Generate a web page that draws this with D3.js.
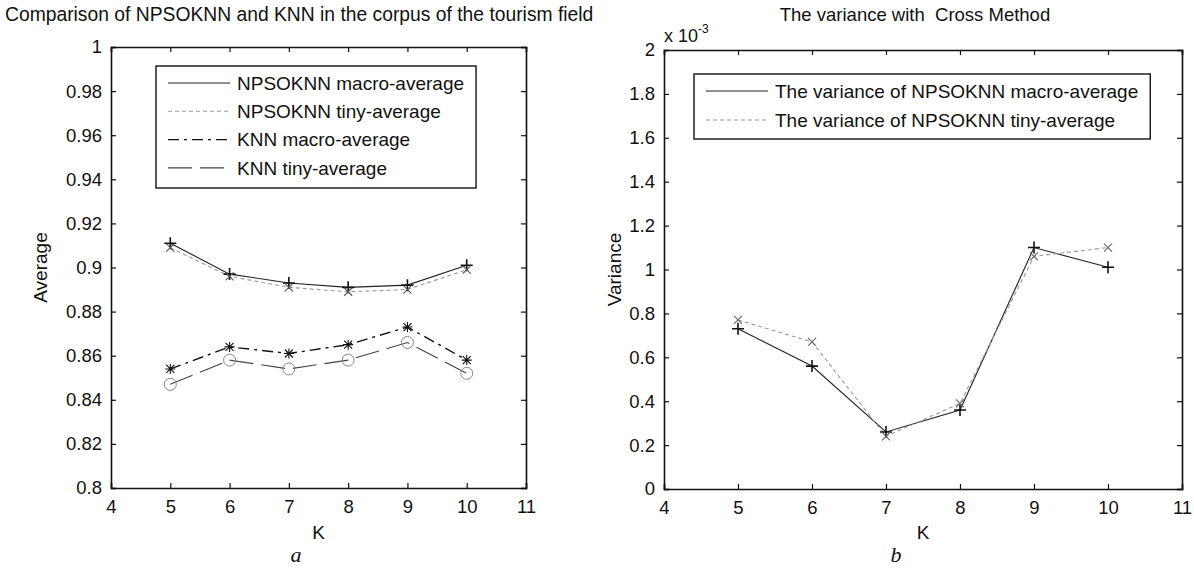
<!DOCTYPE html>
<html>
<head>
<meta charset="utf-8">
<script src="https://cdn.jsdelivr.net/npm/d3@7"></script>
<style>
  body { margin: 0; background: #fff; }
  svg text { font-family: "Liberation Sans", Arial, sans-serif; fill: #111; }
</style>
</head>
<body>
<svg id="chart" width="1194" height="568"></svg>
<script>
/* two MATLAB-style panels: averages (a) and variance (b) */

const kValues   = [5, 6, 7, 8, 9, 10];
const npsoMacro = [0.911, 0.897, 0.893, 0.891, 0.892, 0.901];
const npsoTiny  = [0.909, 0.896, 0.891, 0.889, 0.890, 0.899];
const knnMacro  = [0.854, 0.864, 0.861, 0.865, 0.873, 0.858];
const knnTiny   = [0.847, 0.858, 0.854, 0.858, 0.866, 0.852];

const varMacro  = [0.00073, 0.00056, 0.00026, 0.00036, 0.00110, 0.00101];
const varTiny   = [0.00077, 0.00067, 0.00024, 0.00039, 0.00106, 0.00110];

const xTicks     = [4, 5, 6, 7, 8, 9, 10, 11];
const avgTicks   = [0.8, 0.82, 0.84, 0.86, 0.88, 0.9, 0.92, 0.94, 0.96, 0.98, 1];
const varTicks   = [0, 0.0002, 0.0004, 0.0006, 0.0008, 0.001, 0.0012, 0.0014, 0.0016, 0.0018, 0.002];

const svg = d3.select("#chart");

/* -- marker shapes ------------------------------------------------------ */
const markerPath = {
  plus:  "M-6,0H6M0,-6V6",
  cross: "M-4,-4L4,4M-4,4L4,-4",
  star:  "M-5,0H5M0,-5V5M-4,-4L4,4M-4,4L4,-4"
};

function panel(cfg) {
  const x = d3.scaleLinear().domain([4, 11]).range([cfg.left, cfg.right]);
  const y = d3.scaleLinear().domain(cfg.yDomain).range([cfg.bottom, cfg.top]);
  const g = svg.append("g");

  // frame axes, ticks pointing inward
  const fmtY = cfg.yFormat;
  g.append("g").attr("transform", `translate(0,${cfg.bottom})`)
    .call(d3.axisBottom(x).tickValues(xTicks).tickSize(-5).tickPadding(12).tickFormat(d3.format("d")));
  g.append("g").attr("transform", `translate(0,${cfg.top})`)
    .call(d3.axisTop(x).tickValues(xTicks).tickSize(-5).tickFormat(""));
  g.append("g").attr("transform", `translate(${cfg.left},0)`)
    .call(d3.axisLeft(y).tickValues(cfg.yTicks).tickSize(-5).tickPadding(9).tickFormat(fmtY));
  g.append("g").attr("transform", `translate(${cfg.right},0)`)
    .call(d3.axisRight(y).tickValues(cfg.yTicks).tickSize(-5).tickFormat(""));

  g.selectAll(".domain").attr("stroke", "#111").attr("stroke-width", 1.6);
  g.selectAll(".tick line").attr("stroke", "#111").attr("stroke-width", 1.2);
  g.selectAll(".tick text").attr("font-size", 18.5).attr("fill", "#111")
    .attr("font-family", "Liberation Sans, Arial, sans-serif");

  const line = d3.line().x((d, i) => x(kValues[i])).y(d => y(d));

  cfg.series.forEach(s => {
    g.append("path").datum(s.values)
      .attr("d", line).attr("fill", "none")
      .attr("stroke", s.color).attr("stroke-width", s.width || 1.1)
      .attr("stroke-dasharray", s.dash || null);
  });
  cfg.series.forEach(s => {
    const m = g.selectAll(null).data(s.values).enter();
    if (s.marker === "circle") {
      m.append("circle")
        .attr("cx", (d, i) => x(kValues[i])).attr("cy", d => y(d)).attr("r", 6)
        .attr("fill", "none").attr("stroke", s.markerColor).attr("stroke-width", 1);
    } else {
      m.append("path")
        .attr("transform", (d, i) => `translate(${x(kValues[i])},${y(d)})`)
        .attr("d", markerPath[s.marker]).attr("fill", "none")
        .attr("stroke", s.markerColor).attr("stroke-width", s.marker === "plus" ? 1.6 : 1.1);
    }
  });

  // legend
  const L = cfg.legend;
  const lg = g.append("g");
  const rows = cfg.series.map((s, i) => {
    const yy = L.y0 + i * L.step;
    lg.append("line").attr("x1", L.x + 12).attr("x2", L.x + 74)
      .attr("y1", yy).attr("y2", yy)
      .attr("stroke", s.color).attr("stroke-width", s.width || 1.1)
      .attr("stroke-dasharray", s.dash || null);
    return lg.append("text").attr("x", L.x + 81).attr("y", yy)
      .attr("dy", "0.35em").attr("font-size", 19).text(s.name);
  });
  const maxW = d3.max(rows, t => t.node().getComputedTextLength());
  lg.insert("rect", ":first-child")
    .attr("x", L.x).attr("y", L.top)
    .attr("width", 81 + maxW + 12).attr("height", L.bottom - L.top)
    .attr("fill", "#fff").attr("stroke", "#111").attr("stroke-width", 1.4);

  // labels
  svg.append("text").attr("x", (cfg.left + cfg.right) / 2).attr("y", 539)
    .attr("text-anchor", "middle").attr("font-size", 19).text("K");
  svg.append("text")
    .attr("transform", `translate(${cfg.yLabelX},${(cfg.top + cfg.bottom) / 2}) rotate(-90)`)
    .attr("text-anchor", "middle").attr("font-size", 19).text(cfg.yLabel);
  svg.append("text").attr("x", cfg.captionX).attr("y", 562)
    .attr("text-anchor", "middle").attr("font-size", 22)
    .attr("font-style", "italic").style("font-family", "Liberation Serif, Times New Roman, serif")
    .text(cfg.caption);
}

const gray = "#9a9a9a";

panel({
  left: 111, right: 526, top: 47, bottom: 488,
  yDomain: [0.8, 1], yTicks: avgTicks,
  yFormat: d => d3.format("")(+d.toFixed(2)),
  yLabel: "Average", yLabelX: 47, caption: "a", captionX: 296,
  legend: { x: 156, top: 66, bottom: 188, y0: 83, step: 28.3 },
  series: [
    { name: "NPSOKNN macro-average", values: npsoMacro, color: "#222", marker: "plus", markerColor: "#111" },
    { name: "NPSOKNN tiny-average",  values: npsoTiny,  color: gray, dash: "4,3", marker: "cross", markerColor: "#555" },
    { name: "KNN macro-average",     values: knnMacro,  color: "#111", dash: "11,5,3,5", width: 1.4, marker: "star", markerColor: "#111" },
    { name: "KNN tiny-average",      values: knnTiny,   color: "#444", dash: "24,8", marker: "circle", markerColor: "#888" }
  ]
});

panel({
  left: 664, right: 1182, top: 50, bottom: 489,
  yDomain: [0, 0.002], yTicks: varTicks,
  yFormat: d => d3.format("")(+(d * 1000).toFixed(1)),
  yLabel: "Variance", yLabelX: 621, caption: "b", captionX: 896,
  legend: { x: 694, top: 74, bottom: 139, y0: 91, step: 29 },
  series: [
    { name: "The variance of NPSOKNN macro-average", values: varMacro, color: "#222", marker: "plus", markerColor: "#111" },
    { name: "The variance of NPSOKNN tiny-average",  values: varTiny,  color: gray, dash: "4,3", marker: "cross", markerColor: "#666" }
  ]
});

/* titles and exponent note */
svg.append("text").attr("x", 5).attr("y", 21).attr("font-size", 19.3)
  .text("Comparison of NPSOKNN and KNN in the corpus of the tourism field");
svg.append("text").attr("x", 915).attr("y", 21).attr("text-anchor", "middle").attr("font-size", 18.5)
  .attr("xml:space", "preserve").text("The variance with  Cross Method");
const exp = svg.append("text").attr("x", 664).attr("y", 42).attr("font-size", 18);
exp.append("tspan").text("x 10");
exp.append("tspan").attr("dy", -9).attr("font-size", 12).text("-3");
</script>
</body>
</html>
